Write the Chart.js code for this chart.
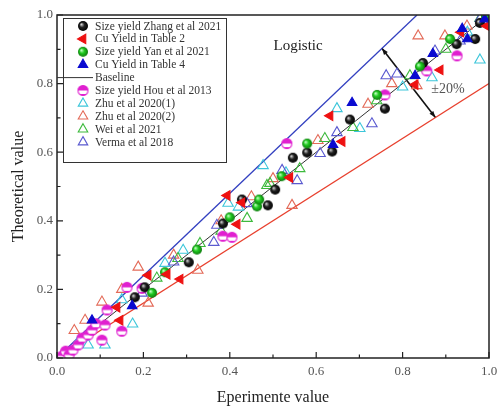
<!DOCTYPE html>
<html>
<head>
<meta charset="utf-8">
<script src="https://cdn.jsdelivr.net/npm/chart.js@4.4.1/dist/chart.umd.min.js"></script>
<style>
  html, body { margin: 0; padding: 0; background: #fff; }
  #wrap { width: 497px; height: 410px; }
</style>
</head>
<body>
<div id="wrap"><canvas id="chart"></canvas></div>
<script>
const SERIF = "'Liberation Serif', 'DejaVu Serif', serif";

// tick marks along both axes
const majorTicks = [0, 0.2, 0.4, 0.6, 0.8, 1.0];
const minorTicks = [0.1, 0.3, 0.5, 0.7, 0.9];

// reference lines
const baselineX = [0, 1];
const baselineY = [0, 1];
const upperX = [0, 0.8333];
const upperY = [0, 1];
const lowerX = [0, 1];
const lowerY = [0, 0.8];
const arrowX = [0.752, 0.876];
const arrowY = [0.903, 0.701];

// Size yield Zhang et al 2021
const zhangX = [0.18, 0.203, 0.305, 0.384, 0.428, 0.488, 0.505, 0.546, 0.579, 0.637, 0.678, 0.759, 0.847, 0.925, 0.968, 0.979];
const zhangY = [0.177, 0.206, 0.279, 0.392, 0.462, 0.445, 0.491, 0.584, 0.599, 0.602, 0.695, 0.727, 0.860, 0.915, 0.930, 0.977];

// Cu Yield in Table 2
const cuT2X = [0.146, 0.139, 0.211, 0.255, 0.285, 0.394, 0.428, 0.417, 0.539, 0.632, 0.660, 0.829, 0.887, 0.935, 0.995];
const cuT2Y = [0.110, 0.148, 0.241, 0.244, 0.230, 0.474, 0.453, 0.390, 0.526, 0.706, 0.631, 0.797, 0.840, 0.950, 0.968];

// Size yield Yan et al 2021
const yanX = [0.220, 0.250, 0.324, 0.400, 0.463, 0.468, 0.520, 0.579, 0.741, 0.840, 0.910, 0.993];
const yanY = [0.190, 0.250, 0.316, 0.410, 0.442, 0.462, 0.530, 0.625, 0.767, 0.850, 0.930, 0.995];

// Cu Yield in Table 4
const cuT4X = [0.081, 0.174, 0.639, 0.683, 0.829, 0.870, 0.938, 0.950, 0.990];
const cuT4Y = [0.110, 0.152, 0.622, 0.744, 0.823, 0.887, 0.960, 0.930, 0.988];

// Size yield Hou et al 2013
const houX = [0.012, 0.020, 0.028, 0.037, 0.049, 0.058, 0.072, 0.081, 0.090, 0.104, 0.111, 0.116, 0.150, 0.162, 0.197, 0.384, 0.405, 0.532, 0.759, 0.856, 0.926];
const houY = [0.006, 0.020, 0.009, 0.023, 0.038, 0.058, 0.067, 0.081, 0.100, 0.052, 0.096, 0.140, 0.078, 0.206, 0.203, 0.355, 0.352, 0.625, 0.767, 0.837, 0.881];

// Zhu et al 2020(1)
const zhu1X = [0.050, 0.072, 0.111, 0.150, 0.175, 0.250, 0.292, 0.396, 0.420, 0.477, 0.530, 0.648, 0.701, 0.800, 0.868, 0.950, 0.979];
const zhu1Y = [0.050, 0.038, 0.038, 0.170, 0.099, 0.276, 0.314, 0.451, 0.440, 0.561, 0.540, 0.727, 0.669, 0.790, 0.817, 0.950, 0.869];

// Zhu et al 2020(2)
const zhu2X = [0.040, 0.065, 0.104, 0.150, 0.188, 0.211, 0.270, 0.326, 0.380, 0.450, 0.500, 0.544, 0.604, 0.720, 0.775, 0.833, 0.836, 0.898, 0.949];
const zhu2Y = [0.080, 0.110, 0.163, 0.200, 0.265, 0.160, 0.300, 0.256, 0.400, 0.470, 0.523, 0.445, 0.634, 0.740, 0.800, 0.794, 0.939, 0.939, 0.968];

// Wei et al 2021
const weiX = [0.231, 0.280, 0.331, 0.380, 0.440, 0.486, 0.493, 0.562, 0.620, 0.685, 0.740, 0.817, 0.900, 0.979];
const weiY = [0.233, 0.290, 0.334, 0.370, 0.407, 0.503, 0.509, 0.552, 0.640, 0.672, 0.750, 0.823, 0.900, 0.990];

// Verma et al 2018
const vermaX = [0.197, 0.270, 0.363, 0.370, 0.440, 0.521, 0.556, 0.609, 0.648, 0.729, 0.762, 0.787, 0.875, 0.933, 0.980];
const vermaY = [0.189, 0.280, 0.337, 0.387, 0.450, 0.547, 0.517, 0.596, 0.657, 0.683, 0.823, 0.828, 0.895, 0.924, 0.990];

const pairs = (xs, ys) => xs.map((x, i) => ({ x, y: ys[i] }));

function sphere(light, body, dark, r) {
    const c = document.createElement("canvas");
    const s = 2 * r + 2;
    c.width = s;
    c.height = s;
    const g = c.getContext("2d");
    const m = s / 2;
    const grad = g.createRadialGradient(m - r * 0.35, m - r * 0.35, r * 0.05, m, m, r);
    grad.addColorStop(0, light);
    grad.addColorStop(0.45, body);
    grad.addColorStop(1, dark);
    g.fillStyle = grad;
    g.beginPath();
    g.arc(m, m, r, 0, Math.PI * 2);
    g.fill();
    return c;
}

function halfDot(color, r) {
    const c = document.createElement("canvas");
    const s = 2 * r + 3;
    c.width = s;
    c.height = s;
    const g = c.getContext("2d");
    const m = s / 2;
    g.fillStyle = "#fff";
    g.beginPath();
    g.arc(m, m, r, 0, Math.PI * 2);
    g.fill();
    g.fillStyle = color;
    g.beginPath();
    g.arc(m, m, r, Math.PI, 0);
    g.closePath();
    g.fill();
    g.beginPath();
    g.arc(m, m, r, 0.25 * Math.PI, 0.75 * Math.PI);
    g.closePath();
    g.fill();
    g.strokeStyle = color;
    g.lineWidth = 1.1;
    g.beginPath();
    g.arc(m, m, r, 0, Math.PI * 2);
    g.stroke();
    return c;
}

const blackBall = sphere("#d8d8d8", "#222", "#000", 5);
const greenBall = sphere("#c8ffc8", "#22cc22", "#0c7a0c", 5);
const houDot = halfDot("#e020d0", 5);

function markerSet(label, data, style) {
    return Object.assign({
        label,
        data,
        showLine: false,
        pointRadius: 5.5,
        pointHoverRadius: 5.5,
        pointBorderWidth: 1.1,
        order: 1,
    }, style);
}

function lineSet(label, data, color, width) {
    return {
        label,
        data,
        showLine: true,
        borderColor: color,
        borderWidth: width,
        pointRadius: 0,
        pointHoverRadius: 0,
        fill: false,
        order: 5,
    };
}

const datasets = [
    lineSet("Upper", pairs(upperX, upperY), "#3340c0", 1.3),
    lineSet("Lower", pairs(lowerX, lowerY), "#e8402e", 1.3),
    lineSet("Baseline", pairs(baselineX, baselineY), "#333", 1),
    lineSet("Arrow", pairs(arrowX, arrowY), "#111", 1.6),
    markerSet("Zhu et al 2020(2)", pairs(zhu2X, zhu2Y), { pointStyle: "triangle", pointBorderColor: "#e36a58", pointBackgroundColor: "rgba(0,0,0,0)", pointRadius: 6 }),
    markerSet("Zhu et al 2020(1)", pairs(zhu1X, zhu1Y), { pointStyle: "triangle", pointBorderColor: "#3cc6da", pointBackgroundColor: "rgba(0,0,0,0)", pointRadius: 6 }),
    markerSet("Wei et al 2021", pairs(weiX, weiY), { pointStyle: "triangle", pointBorderColor: "#3dba3d", pointBackgroundColor: "rgba(0,0,0,0)", pointRadius: 6 }),
    markerSet("Verma et al 2018", pairs(vermaX, vermaY), { pointStyle: "triangle", pointBorderColor: "#5a5ad0", pointBackgroundColor: "rgba(0,0,0,0)", pointRadius: 6 }),
    markerSet("Size yield Hou et al 2013", pairs(houX, houY), { pointStyle: houDot }),
    markerSet("Size yield Zhang et al 2021", pairs(zhangX, zhangY), { pointStyle: blackBall }),
    markerSet("Size yield Yan et al 2021", pairs(yanX, yanY), { pointStyle: greenBall }),
    markerSet("Cu Yield in Table 2", pairs(cuT2X, cuT2Y), { pointStyle: "triangle", rotation: -90, pointBackgroundColor: "#ee1111", pointBorderColor: "#ee1111" }),
    markerSet("Cu Yield in Table 4", pairs(cuT4X, cuT4Y), { pointStyle: "triangle", pointBackgroundColor: "#0a0ad0", pointBorderColor: "#0a0ad0" }),
];
// later datasets are painted on top
datasets.forEach((d, i) => { if (d.order === 1) d.order = 1 - i * 0.01; });

const legendRows = [
    { text: "Size yield Zhang et al 2021", style: blackBall },
    { text: "Cu Yield in Table 2", style: "triangle", rotation: -90, fill: "#ee1111", stroke: "#ee1111" },
    { text: "Size yield Yan et al 2021", style: greenBall },
    { text: "Cu Yield in Table 4", style: "triangle", fill: "#0a0ad0", stroke: "#0a0ad0" },
    { text: "Baseline", line: "#333" },
    { text: "Size yield Hou et al 2013", style: houDot },
    { text: "Zhu et al 2020(1)", style: "triangle", stroke: "#3cc6da" },
    { text: "Zhu et al 2020(2)", style: "triangle", stroke: "#e36a58" },
    { text: "Wei et al 2021", style: "triangle", stroke: "#3dba3d" },
    { text: "Verma et al 2018", style: "triangle", stroke: "#5a5ad0" },
];

const framePlugin = {
    id: "frame",
    afterDraw(chart) {
        const { ctx, chartArea: a, scales: { x, y } } = chart;
        ctx.save();
        ctx.strokeStyle = "#222";
        ctx.lineWidth = 1.5;
        ctx.strokeRect(a.left, a.top, a.right - a.left, a.bottom - a.top);
        ctx.lineWidth = 1.2;
        ctx.beginPath();
        const tick = (v, len) => {
            const px = x.getPixelForValue(v);
            ctx.moveTo(px, a.bottom);
            ctx.lineTo(px, a.bottom - len);
            const py = y.getPixelForValue(v);
            ctx.moveTo(a.left, py);
            ctx.lineTo(a.left + len, py);
        };
        majorTicks.forEach((v) => tick(v, 6));
        minorTicks.forEach((v) => tick(v, 3.5));
        ctx.stroke();

        // arrow heads on the ±20% marker
        const ends = [0, 1].map((i) => ({ px: x.getPixelForValue(arrowX[i]), py: y.getPixelForValue(arrowY[i]) }));
        ctx.fillStyle = "#111";
        [[0, 1], [1, 0]].forEach(([i, j]) => {
            const p = ends[i], q = ends[j];
            const ang = Math.atan2(p.py - q.py, p.px - q.px);
            ctx.beginPath();
            ctx.moveTo(p.px, p.py);
            ctx.lineTo(p.px - 7 * Math.cos(ang - 0.35), p.py - 7 * Math.sin(ang - 0.35));
            ctx.lineTo(p.px - 7 * Math.cos(ang + 0.35), p.py - 7 * Math.sin(ang + 0.35));
            ctx.closePath();
            ctx.fill();
        });

        ctx.font = "15px " + SERIF;
        ctx.fillStyle = "#222";
        ctx.textAlign = "center";
        ctx.textBaseline = "middle";
        ctx.fillText("Logistic", x.getPixelForValue(0.558), y.getPixelForValue(0.91));
        ctx.font = "14px " + SERIF;
        ctx.fillStyle = "#555";
        ctx.fillText("±20%", x.getPixelForValue(0.905), y.getPixelForValue(0.782));
        ctx.restore();
    },
};

const legendPlugin = {
    id: "boxLegend",
    afterDraw(chart) {
        const { ctx, chartArea: a } = chart;
        const left = a.left + 6, top = a.top + 3, w = 163, h = 144;
        ctx.save();
        ctx.fillStyle = "#fff";
        ctx.fillRect(left, top, w, h);
        ctx.strokeStyle = "#333";
        ctx.lineWidth = 1;
        ctx.strokeRect(left + 0.5, top + 0.5, w, h);
        ctx.font = "11.5px " + SERIF;
        ctx.textBaseline = "middle";
        legendRows.forEach((row, i) => {
            const cy = top + 8 + i * 12.9;
            const cx = left + 20;
            if (row.line) {
                ctx.strokeStyle = row.line;
                ctx.lineWidth = 1;
                ctx.beginPath();
                ctx.moveTo(left - 6, cy);
                ctx.lineTo(left + 30, cy);
                ctx.stroke();
            } else {
                ctx.fillStyle = row.fill || "rgba(0,0,0,0)";
                ctx.strokeStyle = row.stroke || "#000";
                ctx.lineWidth = 1.1;
                Chart.helpers.drawPoint(ctx, {
                    pointStyle: row.style,
                    rotation: row.rotation || 0,
                    radius: 5.5,
                    borderWidth: 1.1,
                }, cx, cy);
            }
            ctx.fillStyle = "#333";
            ctx.fillText(row.text, left + 32, cy + 0.5);
        });
        ctx.restore();
    },
};

const tickFont = { family: SERIF, size: 13 };
const titleFont = { family: SERIF, size: 16 };

new Chart(document.getElementById("chart"), {
    type: "scatter",
    data: { datasets },
    options: {
        responsive: true,
        maintainAspectRatio: false,
        animation: false,
        events: [],
        layout: { padding: { top: 15, right: 8, left: 0, bottom: 0 } },
        plugins: { legend: { display: false }, tooltip: { enabled: false } },
        scales: {
            x: {
                type: "linear",
                min: 0,
                max: 1,
                grid: { display: false, drawTicks: false },
                border: { display: false },
                ticks: { stepSize: 0.2, padding: 6, color: "#555", font: tickFont, callback: (v) => v.toFixed(1) },
                title: { display: true, text: "Eperimente value", color: "#222", font: titleFont, padding: { top: 0, bottom: 3 } },
                afterFit: (s) => {
                    s.height = 52;
                    s.paddingLeft = 0;
                    s.paddingRight = 0;
                },
            },
            y: {
                type: "linear",
                min: 0,
                max: 1,
                grid: { display: false, drawTicks: false },
                border: { display: false },
                ticks: { stepSize: 0.2, padding: 4, color: "#555", font: tickFont, callback: (v) => v.toFixed(1) },
                title: { display: true, text: "Theoretical value", color: "#222", font: titleFont, padding: { top: 9, bottom: 0 } },
                afterFit: (s) => {
                    s.width = 57;
                    s.paddingTop = 0;
                    s.paddingBottom = 0;
                },
            },
        },
    },
    plugins: [framePlugin, legendPlugin],
});
</script>
</body>
</html>
